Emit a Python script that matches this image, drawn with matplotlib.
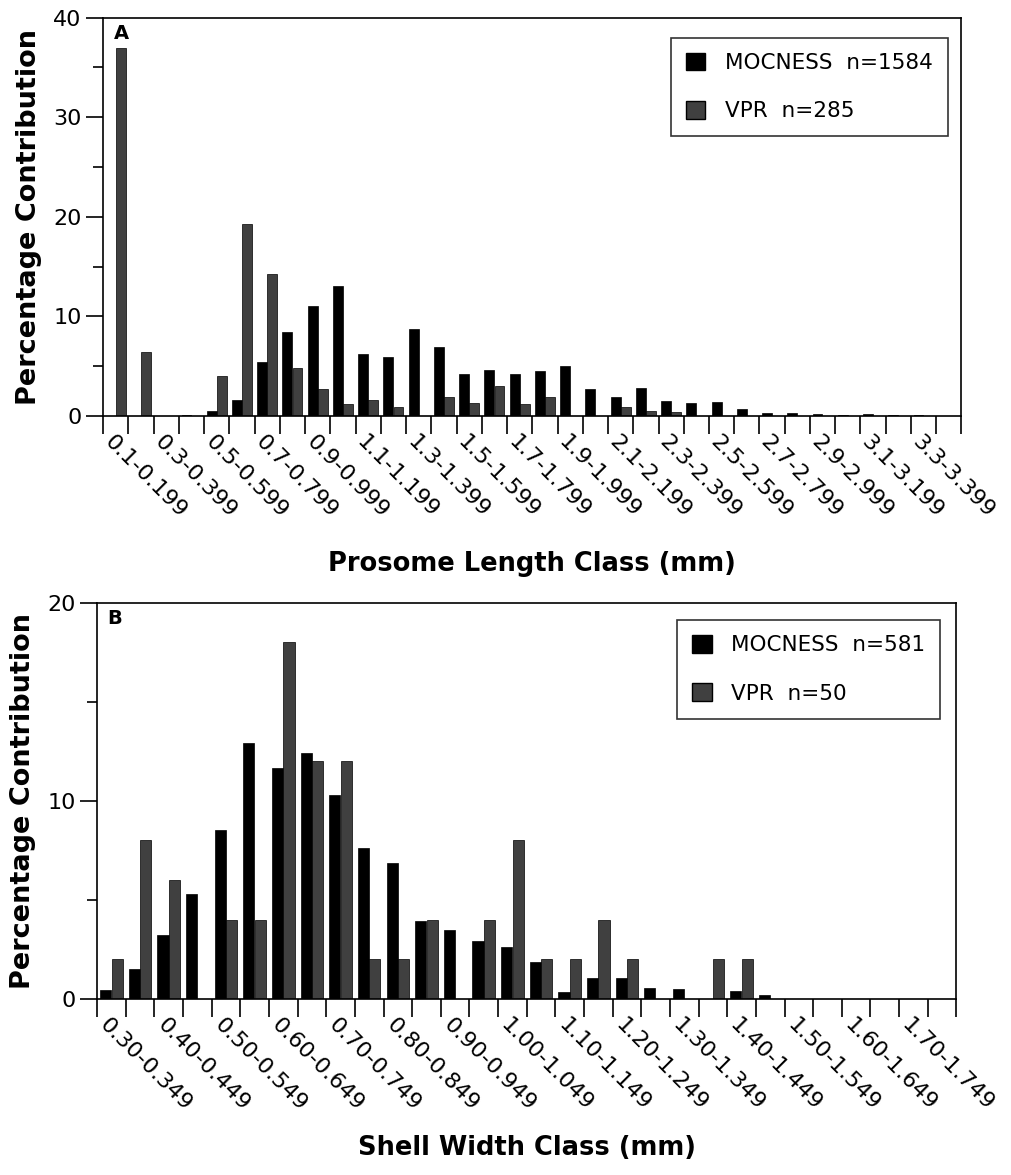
import numpy as np
import matplotlib
matplotlib.use("Agg")
import matplotlib.pyplot as plt
from matplotlib.patches import Patch

plt.rcParams['font.family'] = ['DejaVu Sans']

# Panel A: prosome length classes 0.1-0.199 ... 3.4-3.499 (mm)
prosome_starts = [round(0.1 * i, 1) for i in range(1, 35)]
prosome_mocness = [0, 0, 0, 0.1, 0.5, 1.6, 5.4, 8.4, 11.0, 13.0, 6.2, 5.9, 8.7, 6.9,
                   4.2, 4.6, 4.2, 4.5, 5.0, 2.7, 1.9, 2.8, 1.5, 1.3, 1.4, 0.7, 0.3,
                   0.3, 0.2, 0.1, 0.15, 0.05, 0.1, 0]
prosome_vpr = [36.9, 6.4, 0, 0, 4.0, 19.3, 14.3, 4.8, 2.7, 1.2, 1.6, 0.9, 0, 1.9,
               1.3, 3.0, 1.2, 1.9, 0, 0, 0.9, 0.5, 0.4, 0, 0, 0, 0, 0, 0, 0, 0, 0, 0, 0]

# Panel B: shell width classes 0.30-0.349 ... 1.75-1.799 (mm)
shell_starts = [round(0.30 + 0.05 * i, 2) for i in range(30)]
shell_mocness = [0.45, 1.5, 3.2, 5.3, 8.5, 12.9, 11.65, 12.4, 10.3, 7.6, 6.85, 3.95,
                 3.45, 2.9, 2.6, 1.85, 0.35, 1.05, 1.05, 0.55, 0.5, 0, 0.4, 0.2,
                 0, 0, 0, 0, 0, 0]
shell_vpr = [2, 8, 6, 0, 4, 4, 18, 12, 12, 2, 2, 4, 0, 4, 8, 2, 2, 4, 2, 0, 0, 2, 2,
             0, 0, 0, 0, 0, 0, 0]

prosome_labels = ["%.1f-%.3f" % (s, s + 0.099) for s in prosome_starts]
shell_labels = ["%.2f-%.3f" % (s, s + 0.049) for s in shell_starts]

MOC_COLOR = "black"
VPR_COLOR = "#404040"

fig = plt.figure(figsize=(10.11, 11.75), dpi=100)
axA = fig.add_axes([0.102, 0.646, 0.849, 0.339])
axB = fig.add_axes([0.096, 0.150, 0.850, 0.337])


def draw_panel(ax, labels, moc, vpr, ymax, letter, xlabel, n_moc, n_vpr,
               leg_anchor, xlab_y):
    n = len(labels)
    x = np.arange(n)
    w = 0.39
    ax.bar(x - 0.2, moc, width=w, color=MOC_COLOR, edgecolor=MOC_COLOR, linewidth=0.5)
    ax.bar(x + 0.2, vpr, width=w, color=VPR_COLOR, edgecolor="black", linewidth=0.5)
    ax.set_xlim(-0.5, n - 0.5)
    ax.set_ylim(0, ymax)

    # ticks at class boundaries, labels on every other class
    ax.set_xticks(np.arange(n + 1) - 0.5)
    ax.set_xticklabels([])
    ax.tick_params(axis="x", which="major", direction="out", length=13, width=1.2)
    for i in range(0, n, 2):
        ax.annotate(labels[i], xy=(i, 0), xycoords=("data", "axes fraction"),
                    xytext=(-6, -16.5), textcoords="offset points",
                    rotation=-45, rotation_mode="anchor",
                    ha="left", va="center", fontsize=16)

    ax.set_yticks(np.arange(0, ymax + 1, 10))
    ax.set_yticks(np.arange(0, ymax + 1, 5), minor=True)
    ax.tick_params(axis="y", which="major", direction="out", length=12, width=1.2,
                   labelsize=16)
    ax.tick_params(axis="y", which="minor", direction="out", length=7, width=1.2)
    for sp in ax.spines.values():
        sp.set_linewidth(1.2)

    ax.set_ylabel("Percentage Contribution", fontsize=19.5, fontweight="bold")
    ax.yaxis.set_label_coords(-0.071, 0.5)
    ax.set_xlabel(xlabel, fontsize=18.5, fontweight="bold")
    ax.xaxis.set_label_coords(0.5, xlab_y)

    ax.text(0.012, 0.985, letter, transform=ax.transAxes, fontsize=14,
            fontweight="bold", va="top", ha="left")

    handles = [Patch(facecolor=MOC_COLOR, edgecolor=MOC_COLOR),
               Patch(facecolor=VPR_COLOR, edgecolor="black")]
    leg = ax.legend(handles, ["MOCNESS  n=%d" % n_moc, "VPR  n=%d" % n_vpr],
                    loc="upper right", bbox_to_anchor=leg_anchor, fontsize=15.5,
                    frameon=True, fancybox=False, edgecolor="black",
                    handlelength=0.9, handleheight=0.9, labelspacing=1.3,
                    borderpad=0.7, handletextpad=0.9, borderaxespad=0)
    leg.get_frame().set_linewidth(1.2)


draw_panel(axA, prosome_labels, prosome_mocness, prosome_vpr, 40, "A",
           "Prosome Length Class (mm)", 1584, 285, (0.984, 0.95), -0.34)
draw_panel(axB, shell_labels, shell_mocness, shell_vpr, 20, "B",
           "Shell Width Class (mm)", 581, 50, (0.981, 0.957), -0.343)

fig.savefig("out.png", dpi=100)
